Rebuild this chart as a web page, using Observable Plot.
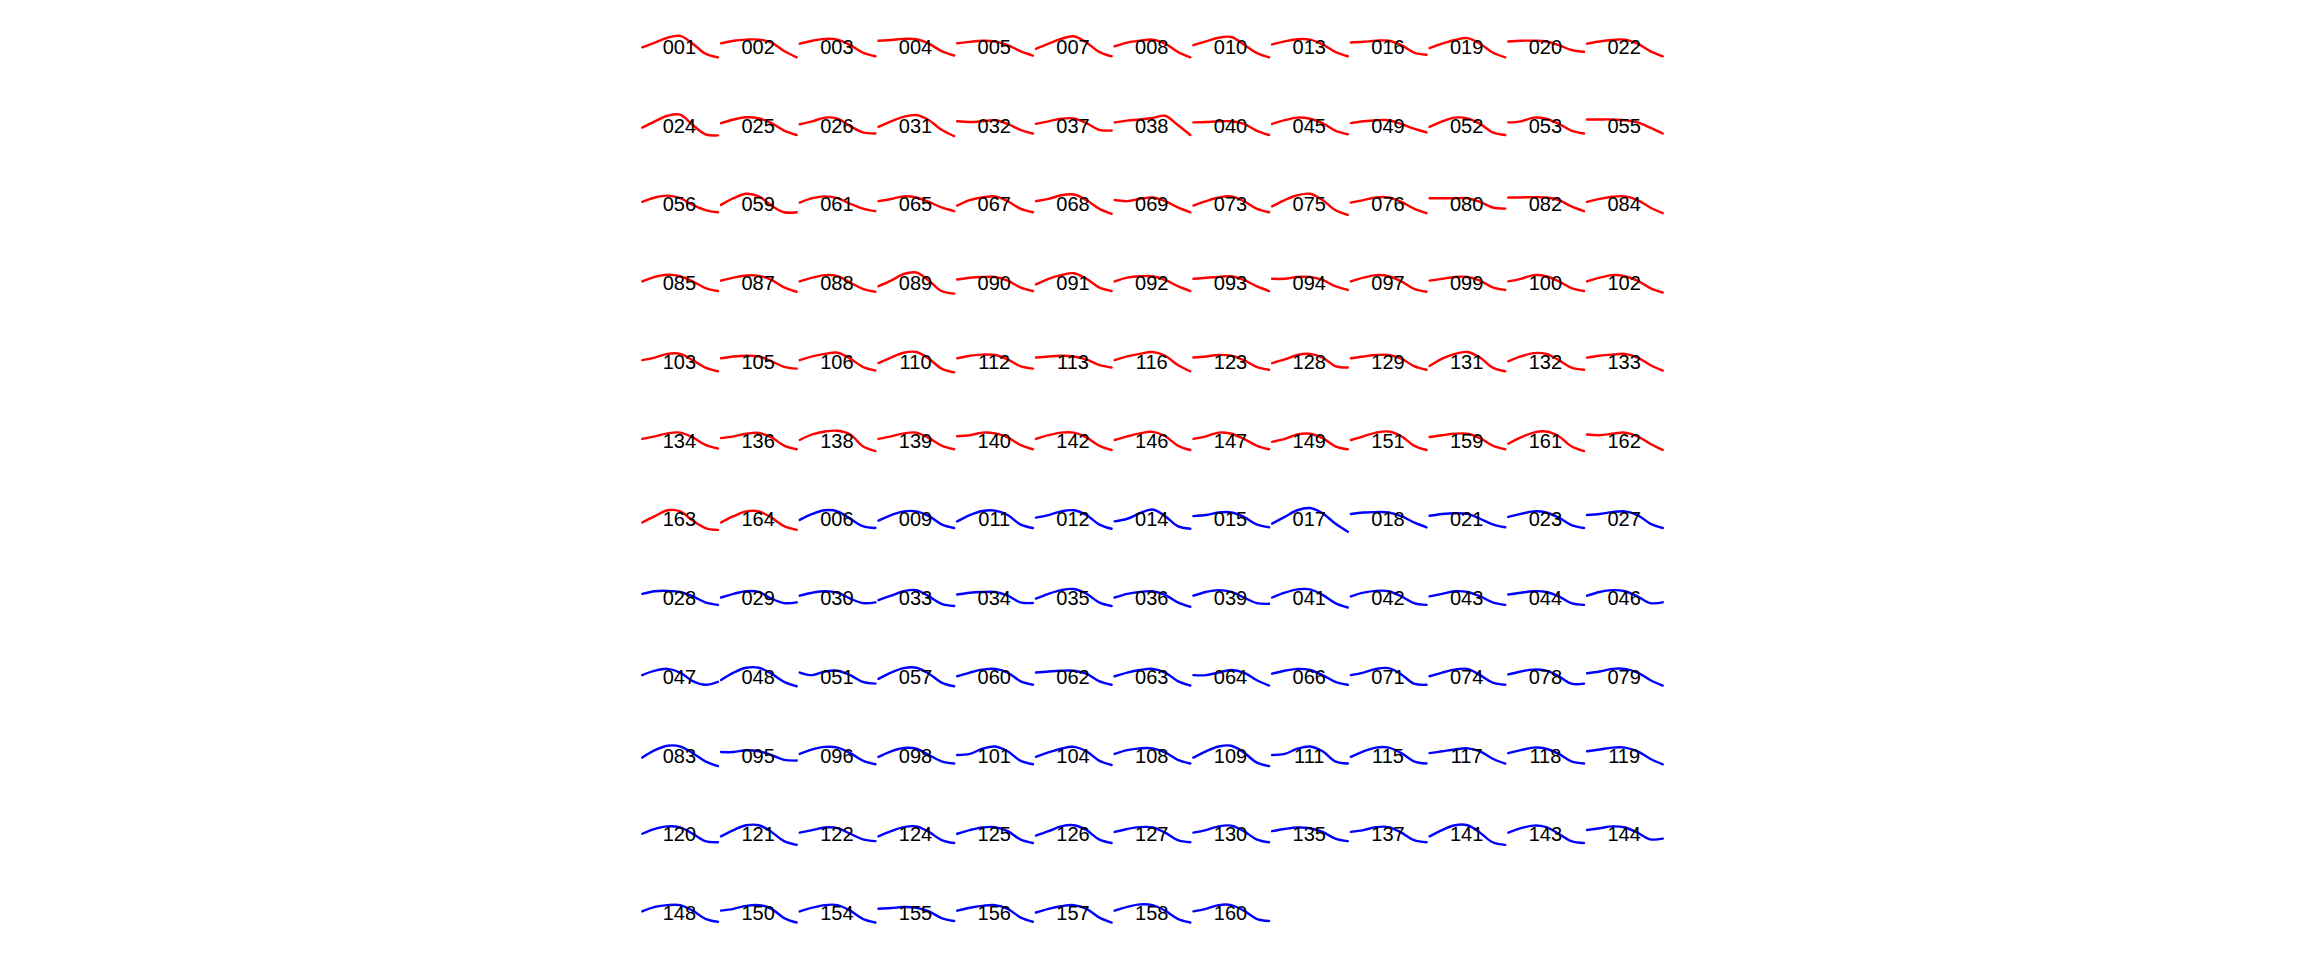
<!DOCTYPE html>
<html>
<head>
<meta charset="utf-8">
<script src="https://cdn.jsdelivr.net/npm/d3@7"></script>
<script src="https://cdn.jsdelivr.net/npm/@observablehq/plot@0.6"></script>
<style>
html, body { margin: 0; padding: 0; background: #fff; overflow: hidden; }
#chart svg { display: block; }
</style>
</head>
<body>
<div id="chart"></div>
<script>
// Sample positions along each curve (normalised 0..1)
const samplePos = [0, 1/6, 2/6, 3/6, 4/6, 5/6, 1];

// Group 1 (red) subjects and readings (depth readings: larger = lower)
const group1Ids = ["001","002","003","004","005","007","008","010","013","016","019","020","022",
"024","025","026","031","032","037","038","040","045","049","052","053","055",
"056","059","061","065","067","068","069","073","075","076","080","082","084",
"085","087","088","089","090","091","092","093","094","097","099","100","102",
"103","105","106","110","112","113","116","123","128","129","131","132","133",
"134","136","138","139","140","142","146","147","149","151","159","161","162",
"163","164"];
const group1Curves = [
[68,55,42,37,58,85,95],[57,50,47,47,55,78,95],[58,50,45,47,62,82,92],[50,48,45,46,58,78,90],[57,53,50,52,62,78,90],[72,58,45,38,55,80,92],[65,55,50,47,58,80,95],[62,52,42,40,60,83,95],[60,52,46,47,60,80,92],[55,53,50,50,62,82,88],[70,58,48,43,58,82,95],[52,50,50,52,62,75,80],[58,52,48,47,58,78,92],
[72,55,40,37,65,90,93],[60,50,44,47,60,80,92],[63,55,45,48,68,85,88],[70,55,43,38,52,78,95],[55,57,55,52,62,78,88],[62,55,48,47,60,78,80],[58,53,50,46,40,65,92],[58,57,55,55,62,80,92],[62,52,45,48,60,80,90],[60,55,52,52,62,75,85],[70,55,45,47,62,85,92],[58,55,45,48,62,80,88],[50,50,50,52,58,72,88],
[60,48,43,50,68,82,88],[68,50,38,45,70,88,88],[62,50,45,50,65,78,85],[58,52,45,48,60,75,85],[70,55,48,45,58,78,88],[58,52,42,40,55,78,92],[55,58,52,48,58,75,88],[70,58,48,45,58,78,88],[72,55,42,38,55,82,95],[62,55,48,48,60,78,90],[50,50,50,50,60,75,78],[48,48,47,48,55,72,85],[60,52,46,45,55,75,90],
[62,50,44,48,62,80,88],[60,52,46,47,58,78,90],[62,52,45,48,65,82,90],[75,60,42,38,60,88,95],[57,52,50,50,60,78,88],[70,55,45,40,55,78,88],[62,52,48,48,58,75,88],[55,52,50,48,58,75,88],[55,55,50,50,58,75,85],[62,52,45,48,62,82,90],[60,55,50,50,60,78,85],[62,55,45,48,62,80,88],[62,52,45,48,60,80,92],
[62,55,45,45,62,82,92],[57,52,50,52,65,80,85],[62,52,45,42,58,80,90],[70,55,42,40,58,85,95],[57,50,47,48,60,78,85],[55,52,50,52,60,75,82],[62,52,45,40,50,75,92],[55,52,48,50,62,80,88],[70,60,48,45,55,78,82],[57,52,48,48,58,78,88],[78,58,45,40,55,82,92],[65,52,43,45,62,82,88],[55,50,47,45,55,75,90],
[62,55,47,45,58,78,88],[60,55,48,46,58,80,90],[65,50,42,40,50,82,95],[62,55,47,45,60,80,90],[55,52,45,47,58,78,90],[62,52,45,45,58,80,92],[65,55,47,43,55,80,92],[62,55,45,48,62,80,90],[70,62,50,48,60,82,90],[65,55,45,42,55,80,92],[57,52,48,48,60,80,90],[75,58,45,42,55,82,95],[50,52,48,45,55,75,92],
[75,58,42,45,70,90,95],[75,58,45,45,62,85,95]
];

// Group 2 (blue) subjects and readings
const group2Ids = ["006","009","011","012","014","015","017","018","021","023","027",
"028","029","030","033","034","035","036","039","041","042","043","044","046",
"047","048","051","057","060","062","063","064","066","071","074","078","079",
"083","095","096","098","101","104","108","109","111","115","117","118","119",
"120","121","122","124","125","126","127","130","135","137","141","143","144",
"148","150","154","155","156","157","158","160"];
const group2Curves = [
[68,52,42,45,65,85,90],[70,55,45,45,58,80,90],[72,55,44,43,55,80,90],[62,55,45,42,55,80,92],[72,65,50,40,58,85,92],[58,55,48,48,60,80,88],[78,60,42,36,50,78,100],[52,48,47,48,58,75,88],[57,52,50,52,65,80,88],[60,52,45,48,62,82,90],[55,52,47,45,55,78,90],
[55,48,47,50,62,78,85],[65,55,48,50,68,80,78],[60,52,48,52,68,80,78],[72,60,48,45,62,82,88],[57,52,50,50,60,78,80],[68,55,45,42,55,78,88],[65,55,50,48,58,78,90],[60,50,45,50,65,80,82],[65,52,43,43,58,80,92],[62,52,47,48,62,80,85],[62,55,48,50,62,78,85],[57,52,48,50,62,80,85],[60,50,45,48,62,80,78],
[62,50,45,55,78,88,80],[75,55,42,42,58,80,92],[55,62,52,50,62,80,85],[72,55,43,42,58,82,92],[65,55,47,45,55,78,88],[55,52,50,50,58,78,88],[65,55,48,45,55,78,90],[62,62,55,48,55,75,90],[58,50,45,48,62,80,88],[62,55,45,43,60,85,88],[65,55,47,45,62,82,88],[60,52,47,50,65,85,85],[57,52,45,45,55,75,90],
[72,52,40,42,60,82,95],[57,57,52,55,65,78,80],[62,50,43,45,60,80,90],[70,55,46,48,65,82,88],[65,62,48,42,55,80,90],[70,58,48,43,55,80,92],[62,52,47,47,58,78,88],[72,55,42,40,58,85,95],[65,62,48,42,55,82,88],[70,55,45,45,60,82,88],[60,55,50,47,55,75,88],[60,52,45,48,62,82,88],[55,50,45,45,55,75,90],
[65,52,45,48,65,85,88],[72,55,42,42,60,85,95],[62,55,48,50,65,80,85],[72,58,47,45,60,82,90],[65,55,48,47,58,80,90],[70,58,45,42,55,80,90],[60,52,47,48,62,82,88],[62,55,45,43,58,80,88],[58,52,48,50,60,78,85],[60,55,47,47,62,82,88],[72,55,42,42,62,88,95],[62,50,43,47,65,85,90],[55,50,45,48,62,80,78],
[62,50,45,45,60,82,90],[60,55,47,45,55,80,92],[62,52,45,45,60,82,92],[55,53,50,52,62,80,88],[60,52,47,45,55,78,90],[65,55,48,45,55,78,92],[60,50,43,45,60,82,92],[62,55,45,45,60,82,88]
];

const groupNames = ["group 1", "group 2"];
const groupColors = ["#ff0000", "#0000ff"];
const nCols = 13, nRows = 12;

// Build tidy tables
const subjects = [];
group1Ids.forEach((id, i) => subjects.push({id, group: groupNames[0], readings: group1Curves[i]}));
group2Ids.forEach((id, i) => subjects.push({id, group: groupNames[1], readings: group2Curves[i]}));
subjects.forEach((s, k) => { s.col = k % nCols; s.row = Math.floor(k / nCols); });

// reading -> value (reference level 68, 2.7 reading units per value unit)
const points = subjects.flatMap(s => s.readings.map((r, j) => ({
  id: s.id, group: s.group, col: s.col, row: s.row,
  t: samplePos[j], value: (68 - r) / 2.7
})));

const chart = Plot.plot({
  width: 2304,
  height: 960,
  marginLeft: 639.5,
  marginRight: 641,
  marginTop: 7.5,
  marginBottom: 7.5,
  style: {fontFamily: "'Liberation Sans', Arial, Helvetica, sans-serif", background: "#fff"},
  fx: {axis: null, padding: 0, round: false, domain: d3.range(nCols)},
  fy: {axis: null, padding: 0, round: false, domain: d3.range(nRows)},
  x: {axis: null, domain: [-0.03, 1.01]},
  y: {axis: null, domain: [-39.375, 39.375]},
  color: {domain: groupNames, range: groupColors},
  marks: [
    Plot.line(points, {x: "t", y: "value", z: "id", fx: "col", fy: "row", stroke: "group", strokeWidth: 2.4, curve: "catmull-rom"}),
    Plot.text(subjects, {fx: "col", fy: "row", text: "id", frameAnchor: "middle", fontSize: 20, fill: "#000"})
  ]
});
document.getElementById("chart").appendChild(chart);
</script>
</body>
</html>
